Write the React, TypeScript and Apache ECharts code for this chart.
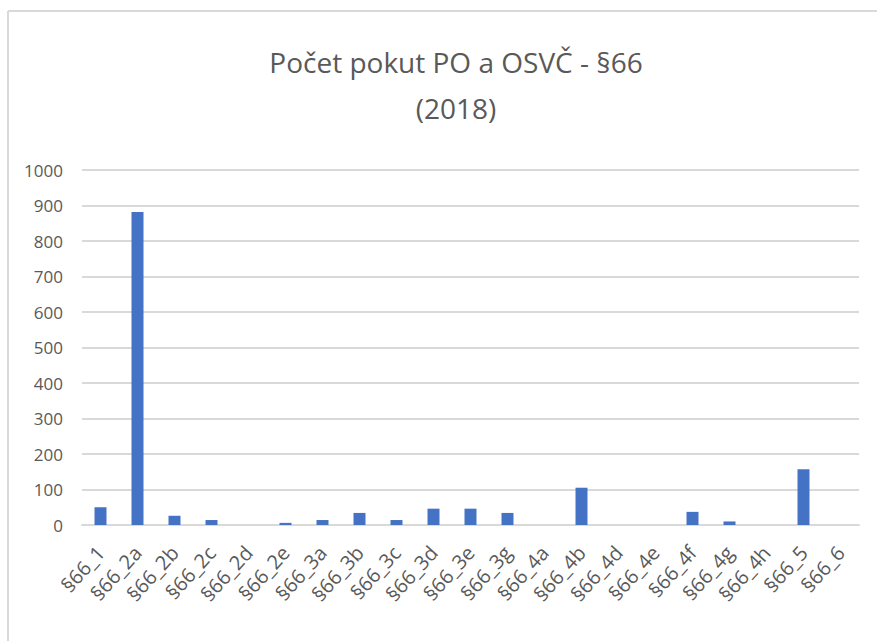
import React, { useEffect, useRef } from "react";
import * as echarts from "echarts";

const titleText = "Počet pokut PO a OSVČ - §66\n(2018)";
const categories = [
  "§66_1", "§66_2a", "§66_2b", "§66_2c", "§66_2d", "§66_2e", "§66_3a", "§66_3b", "§66_3c", "§66_3d",
  "§66_3e", "§66_3g", "§66_4a", "§66_4b", "§66_4d", "§66_4e", "§66_4f", "§66_4g", "§66_4h", "§66_5", "§66_6",
];
const values = [50, 882, 26, 14, 0, 6, 14, 34, 14, 46, 46, 34, 0, 105, 0, 0, 37, 10, 0, 157, 0];
const yTicks = { min: 0, max: 1000, interval: 100 };

export default function App() {
  const ref = useRef<HTMLDivElement>(null);
  useEffect(() => {
    const chart = echarts.init(ref.current!, null, { renderer: "svg" });
    const font = "'Open Sans', 'Noto Sans', sans-serif";
    chart.setOption({
      animation: false,
      backgroundColor: "#ffffff",
      title: {
        text: titleText,
        left: 451,
        textAlign: "center",
        top: 34,
        textStyle: { color: "#595959", fontSize: 28, fontWeight: "normal", fontFamily: font, lineHeight: 46, align: "center" },
      },
      graphic: [
        { type: "line", shape: { x1: 8, y1: 11, x2: 877, y2: 11 }, style: { stroke: "#d9d9d9", lineWidth: 2 } },
        { type: "line", shape: { x1: 8, y1: 11, x2: 8, y2: 641 }, style: { stroke: "#d9d9d9", lineWidth: 2 } },
      ],
      grid: { left: 82, right: 18, top: 170, bottom: 116, containLabel: false },
      xAxis: {
        type: "category",
        data: categories,
        axisLine: { lineStyle: { color: "#d9d9d9", width: 2 } },
        axisTick: { show: false },
        axisLabel: { rotate: 48, color: "#595959", fontSize: 20, fontFamily: font, margin: 24, interval: 0 },
      },
      yAxis: {
        type: "value",
        min: yTicks.min,
        max: yTicks.max,
        interval: yTicks.interval,
        axisLine: { show: false },
        axisTick: { show: false },
        splitLine: { lineStyle: { color: "#d9d9d9", width: 2 } },
        axisLabel: { color: "#595959", fontSize: 17, fontFamily: font, margin: 19, formatter: (v: number) => String(v) },
      },
      series: [
        {
          type: "bar",
          data: values,
          barWidth: 12,
          itemStyle: { color: "#4472c4" },
        },
      ],
    });
    return () => chart.dispose();
  }, []);
  return <div ref={ref} style={{ width: 877, height: 641, position: "absolute", left: 0, top: 0 }} />;
}
